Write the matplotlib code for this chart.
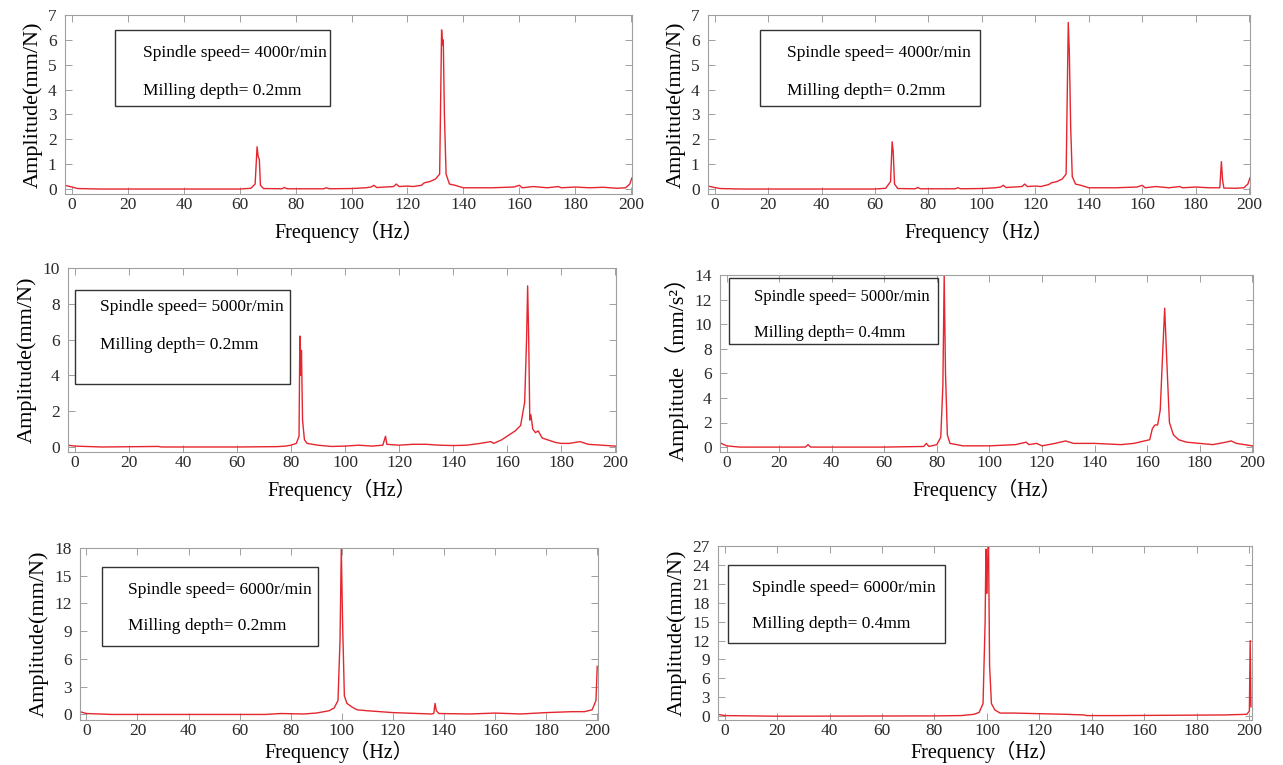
import matplotlib

matplotlib.use("Agg")

import matplotlib.pyplot as plt
from matplotlib.patches import Rectangle

plt.rcParams["font.family"] = ["Liberation Serif", "Noto Sans CJK SC", "DejaVu Sans"]

LARGURA, ALTURA = 1283, 765
COR_LINHA = "#e5262e"
COR_EIXO = "#a0a0a0"

# 4000 r/min, 0.2 mm (topo esquerdo)
freq_a = [-2.5, 0, 2, 10, 30, 50, 60, 64, 65.5, 66.2, 66.6, 67.0, 67.4, 68.5, 75, 76, 77,
          90, 91, 92, 100, 105, 107, 108, 109, 112, 115, 116, 117, 120, 122, 125, 126, 128,
          130, 131.5, 132.2, 132.5, 132.8, 133.2, 133.8, 135, 137, 140, 150, 158, 160, 161,
          165, 170, 174, 175, 180, 185, 190, 195, 198, 199.5, 200.3]
amp_a = [0.15, 0.08, 0.02, 0.0, 0.0, 0.0, 0.0, 0.03, 0.2, 1.7, 1.3, 1.2, 0.15, 0.02, 0.01, 0.06, 0.01,
         0.01, 0.05, 0.01, 0.02, 0.05, 0.08, 0.15, 0.06, 0.08, 0.1, 0.2, 0.1, 0.12, 0.1, 0.15, 0.25, 0.3,
         0.4, 0.6, 6.4, 5.8, 6.0, 3.0, 0.6, 0.2, 0.15, 0.05, 0.05, 0.08, 0.15, 0.05,
         0.1, 0.05, 0.1, 0.05, 0.08, 0.05, 0.07, 0.03, 0.05, 0.2, 0.45]

# 4000 r/min, 0.2 mm (topo direito)
freq_b = [-2.5, 0, 2, 10, 30, 50, 60, 64, 65.8, 66.4, 66.8, 67.3, 68.5, 75, 76, 77,
          90, 91, 92, 100, 105, 107, 108, 109, 112, 115, 116, 117, 120, 122, 125, 126, 128,
          130, 131.5, 132.3, 132.7, 133.2, 133.8, 135, 137, 140, 150, 158, 160, 161,
          165, 170, 174, 175, 180, 185, 189, 189.6, 190.0, 190.5, 195, 198, 199.5, 200.3]
amp_b = [0.12, 0.06, 0.02, 0.0, 0.0, 0.0, 0.0, 0.03, 0.3, 1.9, 1.5, 0.2, 0.02, 0.01, 0.06, 0.01,
         0.01, 0.05, 0.01, 0.02, 0.05, 0.08, 0.15, 0.06, 0.08, 0.1, 0.2, 0.1, 0.12, 0.1, 0.18, 0.25, 0.3,
         0.4, 0.6, 6.7, 5.5, 2.5, 0.5, 0.2, 0.15, 0.05, 0.05, 0.08, 0.15, 0.05,
         0.1, 0.05, 0.1, 0.05, 0.08, 0.05, 0.05, 1.1, 0.4, 0.04, 0.03, 0.05, 0.2, 0.45]

# 5000 r/min, 0.2 mm (meio esquerdo)
freq_c = [-2.5, 0, 10, 31, 32, 60, 75, 78, 80, 82, 83, 83.3, 83.6, 83.9, 84.3, 85, 86,
          90, 95, 100, 105, 110, 114, 115, 115.5, 120, 125, 130, 135, 140, 145, 150, 154, 155, 158,
          160, 163, 165, 166.5, 167.2, 167.6, 168.0, 168.4, 168.8, 169.5, 170.5, 171.5,
          173, 175, 178, 180, 183, 187, 190, 195, 200]
amp_c = [0.1, 0.05, 0.0, 0.03, 0.0, 0.0, 0.02, 0.05, 0.1, 0.2, 0.6, 6.2, 4.0, 5.4, 1.5, 0.4, 0.2,
         0.1, 0.03, 0.05, 0.1, 0.05, 0.1, 0.6, 0.15, 0.1, 0.15, 0.15, 0.1, 0.08, 0.1, 0.2, 0.3, 0.2, 0.4,
         0.6, 0.9, 1.2, 2.5, 6.0, 9.0, 6.0, 1.5, 1.8, 1.0, 0.8, 0.9,
         0.5, 0.4, 0.25, 0.2, 0.2, 0.3, 0.15, 0.1, 0.05]

# 5000 r/min, 0.4 mm (meio direito)
freq_d = [-2.5, 0, 5, 30, 31, 32, 60, 75, 76, 77, 80, 81.5, 82.3, 82.8, 83.3, 84, 85,
          90, 100, 110, 114, 115, 118, 120, 125, 127, 129, 132, 140, 150, 155, 159, 161,
          162, 163, 164, 165, 166, 166.7, 167.5, 168.5, 170, 172, 175, 180, 185, 190,
          192, 194, 197, 200]
amp_d = [0.35, 0.1, 0.0, 0.0, 0.2, 0.0, 0.0, 0.05, 0.3, 0.05, 0.2, 0.8, 5.0, 14.0, 6.0, 1.0, 0.3,
         0.1, 0.1, 0.2, 0.4, 0.2, 0.3, 0.1, 0.3, 0.4, 0.5, 0.3, 0.3, 0.2, 0.3, 0.5, 0.6,
         1.5, 1.8, 1.8, 3.0, 8.0, 11.3, 7.0, 2.0, 1.0, 0.6, 0.4, 0.3, 0.2, 0.4,
         0.5, 0.3, 0.2, 0.1]

# 6000 r/min, 0.2 mm (baixo esquerdo)
freq_e = [-2.5, 0, 10, 70, 76, 85, 90, 95, 97, 98.5, 99.3, 99.8, 100.3, 101, 102, 104,
          106, 110, 115, 120, 125, 130, 135, 136, 136.5, 137, 138, 150, 160, 170, 180,
          190, 195, 198, 199.5, 200]
amp_e = [0.3, 0.1, 0.0, 0.0, 0.1, 0.05, 0.15, 0.4, 0.7, 1.5, 8.0, 18.0, 10.0, 2.0, 1.2, 0.8,
         0.5, 0.4, 0.3, 0.2, 0.15, 0.1, 0.05, 0.1, 1.2, 0.4, 0.1, 0.05, 0.15, 0.05, 0.2,
         0.3, 0.3, 0.5, 1.5, 5.2]

# 6000 r/min, 0.4 mm (baixo direito)
freq_f = [-2.5, 0, 20, 80, 90, 95, 97, 98.5, 99.3, 99.6, 99.9, 100.2, 100.6, 101, 101.7,
          103, 105, 110, 120, 130, 137, 138, 150, 170, 190, 199, 200, 200.3, 200.6]
amp_f = [0.3, 0.1, 0.0, 0.05, 0.1, 0.3, 0.6, 2.0, 15.0, 26.5, 19.5, 24.5, 27.0, 8.0, 2.0,
         1.0, 0.5, 0.5, 0.4, 0.3, 0.2, 0.1, 0.1, 0.15, 0.2, 0.3, 0.8, 12.0, 1.5]

X_TICKS = [0, 20, 40, 60, 80, 100, 120, 140, 160, 180, 200]

PAINEIS = [
    {
        "freq": freq_a, "amp": amp_a,
        "eixo": (65, 632, 15, 194), "xlim": (-2.5, 200.3), "ylim": (-0.2, 7),
        "yticks": [0, 1, 2, 3, 4, 5, 6, 7], "ylabel": "Amplitude(mm/N)",
        "caixa": (115, 330, 30, 106), "textos": (143, 53, 91), "tamanho": 12.5,
        "rotulos": ("Spindle speed= 4000r/min", "Milling depth= 0.2mm"),
        "xlabel_y": 232,
    },
    {
        "freq": freq_b, "amp": amp_b,
        "eixo": (708, 1250, 15, 194), "xlim": (-2.5, 200.3), "ylim": (-0.2, 7),
        "yticks": [0, 1, 2, 3, 4, 5, 6, 7], "ylabel": "Amplitude(mm/N)",
        "caixa": (760, 980, 30, 106), "textos": (787, 53, 91), "tamanho": 12.5,
        "rotulos": ("Spindle speed= 4000r/min", "Milling depth= 0.2mm"),
        "xlabel_y": 232,
    },
    {
        "freq": freq_c, "amp": amp_c,
        "eixo": (68, 616, 268, 452), "xlim": (-2.5, 200.3), "ylim": (-0.28, 10),
        "yticks": [0, 2, 4, 6, 8, 10], "ylabel": "Amplitude(mm/N)",
        "caixa": (75, 290, 290, 384), "textos": (100, 307, 345), "tamanho": 12.5,
        "rotulos": ("Spindle speed= 5000r/min", "Milling depth= 0.2mm"),
        "xlabel_y": 490,
    },
    {
        "freq": freq_d, "amp": amp_d,
        "eixo": (720, 1253, 275, 452), "xlim": (-2.5, 200.3), "ylim": (-0.4, 14),
        "yticks": [0, 2, 4, 6, 8, 10, 12, 14], "ylabel": "Amplitude（mm/s²）",
        "caixa": (729, 938, 278, 344), "textos": (754, 297, 333), "tamanho": 12,
        "rotulos": ("Spindle speed= 5000r/min", "Milling depth= 0.4mm"),
        "xlabel_y": 490,
    },
    {
        "freq": freq_e, "amp": amp_e,
        "eixo": (80, 598, 548, 720), "xlim": (-2.5, 200.3), "ylim": (-0.6, 18),
        "yticks": [0, 3, 6, 9, 12, 15, 18], "ylabel": "Amplitude(mm/N)",
        "caixa": (102, 318, 567, 646), "textos": (128, 590, 626), "tamanho": 12.5,
        "rotulos": ("Spindle speed= 6000r/min", "Milling depth= 0.2mm"),
        "xlabel_y": 752,
    },
    {
        "freq": freq_f, "amp": amp_f,
        "eixo": (718, 1252, 546, 720), "xlim": (-2.5, 201), "ylim": (-0.6, 27),
        "yticks": [0, 3, 6, 9, 12, 15, 18, 21, 24, 27], "ylabel": "Amplitude(mm/N)",
        "caixa": (728, 945, 565, 643), "textos": (752, 588, 624), "tamanho": 12.5,
        "rotulos": ("Spindle speed= 6000r/min", "Milling depth= 0.4mm"),
        "xlabel_y": 752,
    },
]


def px_x(x):
    return x / LARGURA


def px_y(y):
    return 1 - y / ALTURA


def desenhar_painel(fig, painel):
    esq, dir_, topo, base = painel["eixo"]
    ax = fig.add_axes([px_x(esq), px_y(base), (dir_ - esq) / LARGURA, (base - topo) / ALTURA])

    ax.plot(painel["freq"], painel["amp"], color=COR_LINHA, linewidth=1.0)

    ax.set_xlim(*painel["xlim"])
    ax.set_ylim(*painel["ylim"])
    ax.set_xticks(X_TICKS)
    ax.set_yticks(painel["yticks"])

    for spine in ax.spines.values():
        spine.set_color(COR_EIXO)
        spine.set_linewidth(0.8)

    ax.tick_params(
        axis="both", direction="in", top=True, right=True, length=5,
        width=0.7, color=COR_EIXO, labelsize=12.5, labelcolor="#2a2a2a",
    )
    ax.tick_params(axis="x", pad=2)
    ax.tick_params(axis="y", pad=6)

    ax.set_ylabel(painel["ylabel"], fontsize=16, labelpad=4)

    centro_x = (esq + dir_) / 2
    fig.text(px_x(centro_x), px_y(painel["xlabel_y"]), "Frequency（Hz）",
             ha="center", va="center", fontsize=14.5)

    cx0, cx1, cy0, cy1 = painel["caixa"]
    fig.patches.append(
        Rectangle((px_x(cx0), px_y(cy1)), (cx1 - cx0) / LARGURA, (cy1 - cy0) / ALTURA,
                  transform=fig.transFigure, fill=False, edgecolor="#333333", linewidth=1.0)
    )

    tx, ty1, ty2 = painel["textos"]
    for texto, ty in zip(painel["rotulos"], (ty1, ty2)):
        fig.text(px_x(tx), px_y(ty), texto, ha="left", va="center", fontsize=painel["tamanho"])

    return ax


def main():
    fig = plt.figure(figsize=(LARGURA / 100, ALTURA / 100), dpi=100)

    for painel in PAINEIS:
        desenhar_painel(fig, painel)

    fig.savefig("out.png", dpi=100)
    plt.close(fig)


if __name__ == "__main__":
    main()
